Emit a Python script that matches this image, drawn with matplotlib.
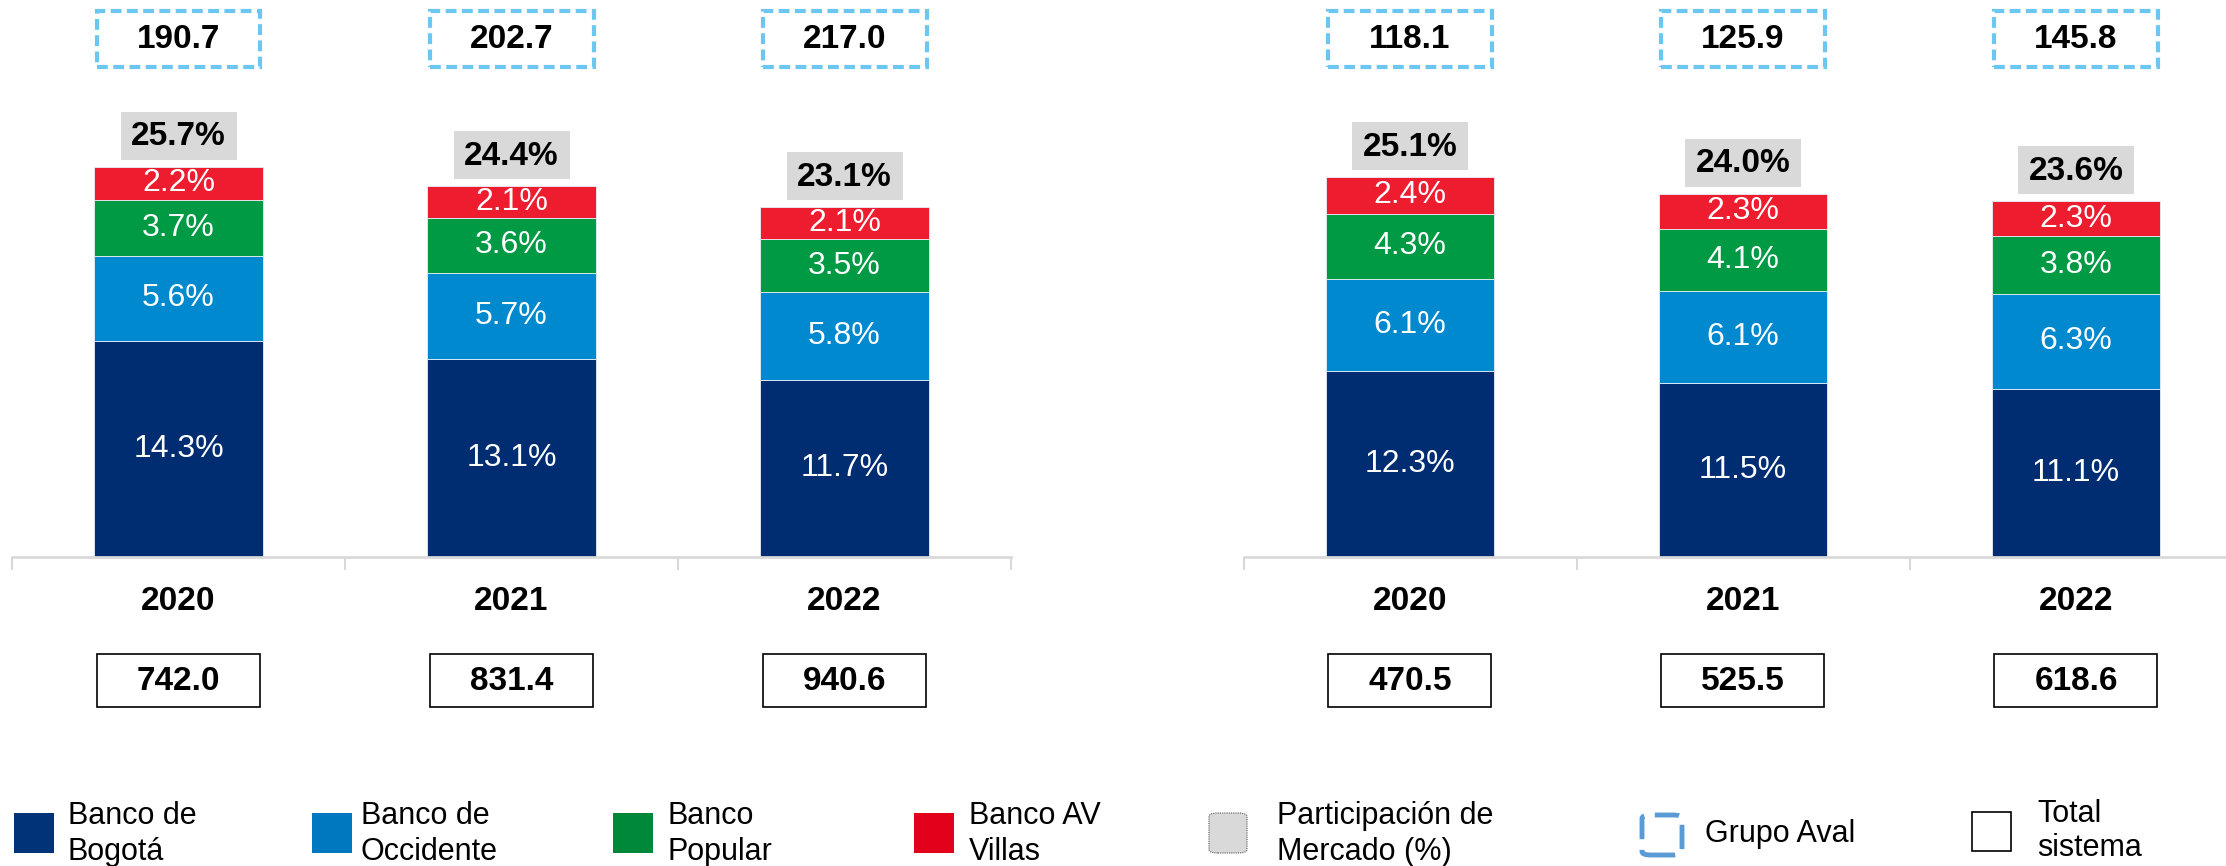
import matplotlib
matplotlib.use("Agg")
import matplotlib.pyplot as plt
from matplotlib.patches import Rectangle, FancyBboxPatch

plt.rcParams['font.family'] = ['Liberation Sans', 'DejaVu Sans']

# ---------------- data ----------------
years = ['2020', '2021', '2022']

left_bogota = [14.3, 13.1, 11.7]
left_occidente = [5.6, 5.7, 5.8]
left_popular = [3.7, 3.6, 3.5]
left_avvillas = [2.2, 2.1, 2.1]
left_share = ['25.7%', '24.4%', '23.1%']
left_aval = ['190.7', '202.7', '217.0']
left_total = ['742.0', '831.4', '940.6']

right_bogota = [12.3, 11.5, 11.1]
right_occidente = [6.1, 6.1, 6.3]
right_popular = [4.3, 4.1, 3.8]
right_avvillas = [2.4, 2.3, 2.3]
right_share = ['25.1%', '24.0%', '23.6%']
right_aval = ['118.1', '125.9', '145.8']
right_total = ['470.5', '525.5', '618.6']

series_names = ['Banco de\nBogotá', 'Banco de\nOccidente', 'Banco\nPopular', 'Banco AV\nVillas']
share_name = 'Participación de\nMercado (%)'
aval_name = 'Grupo Aval'
total_name = 'Total\nsistema'

bar_colors = ['#002d72', '#0089cf', '#009a44', '#ed1c2e']
legend_colors = ['#003478', '#0078c0', '#00883a', '#e3001b']

# ---------------- figure ----------------
W, H = 2226, 866
fig = plt.figure(figsize=(W / 100, H / 100), dpi=100)

PX_PER_UNIT = 15.13
YMAX = 30
BASE_PX = 557          # baseline, px from top
ax_h = YMAX * PX_PER_UNIT


def fig_rect(x0, ytop, w, h, **kw):
    p = Rectangle((x0 / W, 1 - (ytop + h) / H), w / W, h / H,
                  transform=fig.transFigure, **kw)
    fig.patches.append(p)
    return p


def fig_txt(x, ytop, s, **kw):
    return fig.text(x / W, 1 - ytop / H, s, **kw)


def make_panel(left_px, segs, shares, avals, totals):
    ax = fig.add_axes([left_px / W, (H - BASE_PX) / H, 999 / W, ax_h / H])
    ax.set_xlim(-0.5, 2.5)
    ax.set_ylim(0, YMAX)
    x = list(range(len(years)))
    bottoms = [0.0] * len(years)
    for vals, col in zip(segs, bar_colors):
        bars = ax.bar(x, vals, width=0.507, bottom=bottoms, color=col,
                      edgecolor='#e8eef8', linewidth=0.6, zorder=2)
        for b, v in zip(bars, vals):
            ax.text(b.get_x() + b.get_width() / 2, b.get_y() + b.get_height() / 2,
                    f'{v:.1f}%', ha='center', va='center', color='white',
                    fontsize=23, zorder=3)
        bottoms = [bt + v for bt, v in zip(bottoms, vals)]
    for s in ['top', 'left', 'right']:
        ax.spines[s].set_visible(False)
    ax.spines['bottom'].set_color('#d9d9d9')
    ax.spines['bottom'].set_linewidth(2)
    ax.set_yticks([])
    ax.set_xticks([-0.5, 0.5, 1.5, 2.5])
    ax.set_xticklabels([])
    ax.tick_params(axis='x', length=9, width=1.5, color='#d9d9d9', direction='out')
    ax.patch.set_alpha(0)

    for i in x:
        xd, yd = ax.transData.transform((i, bottoms[i]))
        top_from_top = H - yd
        # market share grey box
        gy = top_from_top - 7 - 48
        fig_rect(xd - 58, gy, 116, 48, facecolor='#d9d9d9', edgecolor='none')
        fig_txt(xd, gy + 25, shares[i], ha='center', va='center',
                fontsize=24, fontweight='bold', color='black')
        # Grupo Aval dashed box
        fig_rect(xd - 82, 11, 164, 56, facecolor='none', edgecolor='#6cc6f2',
                 linewidth=3, linestyle=(0, (2.6, 1.3)))
        fig_txt(xd, 40, avals[i], ha='center', va='center',
                fontsize=24, fontweight='bold', color='black')
        # year label
        fig_txt(xd, 602, years[i], ha='center', va='center',
                fontsize=24, fontweight='bold', color='black')
        # total system box
        fig_rect(xd - 82, 654, 163, 53, facecolor='white', edgecolor='black',
                 linewidth=1.2)
        fig_txt(xd, 682, totals[i], ha='center', va='center',
                fontsize=24, fontweight='bold', color='black')
    return ax


make_panel(12, [left_bogota, left_occidente, left_popular, left_avvillas],
           left_share, left_aval, left_total)
make_panel(1243.5, [right_bogota, right_occidente, right_popular, right_avvillas],
           right_share, right_aval, right_total)

# ---------------- legend ----------------
LEG_TOP = 813
LEG_SZ = 40
LEG_TXT_Y = 834
sq_x = [14, 312, 613, 914]
tx_x = [68, 361, 668, 969]
for sx, tx, name, col in zip(sq_x, tx_x, series_names, legend_colors):
    fig_rect(sx, LEG_TOP, LEG_SZ, LEG_SZ, facecolor=col, edgecolor='none')
    fig_txt(tx, LEG_TXT_Y, name, ha='left', va='center', fontsize=22,
            linespacing=1.22)

# market share icon (rounded grey)
fig.patches.append(FancyBboxPatch(((1209) / W, 1 - (LEG_TOP + LEG_SZ) / H),
                                  38 / W, LEG_SZ / H,
                                  boxstyle='round,pad=0,rounding_size=0.004',
                                  transform=fig.transFigure,
                                  facecolor='#d9d9d9', edgecolor='#555555',
                                  linewidth=0.8, linestyle=(0, (1, 1))))
fig_txt(1277, LEG_TXT_Y, share_name, ha='left', va='center', fontsize=22,
        linespacing=1.22)

# Grupo Aval icon (dashed rounded)
fig.patches.append(FancyBboxPatch((1642 / W, 1 - 855 / H), 40 / W, 40 / H,
                                  boxstyle='round,pad=0,rounding_size=0.004',
                                  transform=fig.transFigure,
                                  facecolor='none', edgecolor='#5b9bd5',
                                  linewidth=3.5, linestyle=(0, (5, 2.2))))
fig_txt(1705, LEG_TXT_Y, aval_name, ha='left', va='center', fontsize=22)

# Total sistema icon
fig_rect(1972, 812, 39, 39, facecolor='white', edgecolor='black', linewidth=1.2)
fig_txt(2037, 831, total_name, ha='left', va='center', fontsize=22,
        linespacing=1.15)

fig.savefig('out.png', dpi=100, facecolor='white')
